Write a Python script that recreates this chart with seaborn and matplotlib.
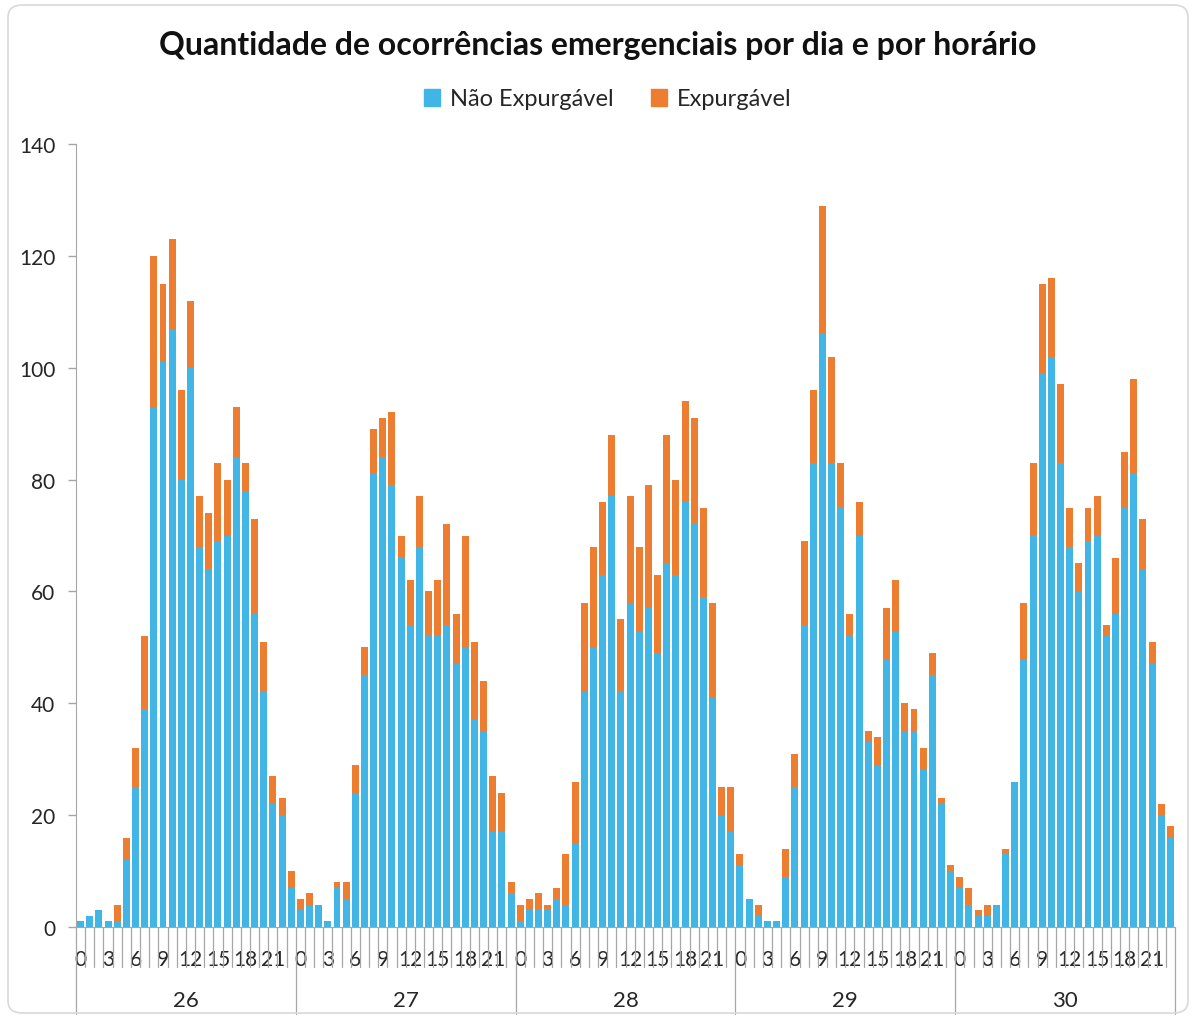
import numpy as np
import pandas as pd
import matplotlib
matplotlib.use('Agg')
import matplotlib.pyplot as plt
import matplotlib.transforms as mtransforms
from matplotlib.patches import FancyBboxPatch, Patch
import seaborn as sns

# dias e horas
dias = ['26', '27', '28', '29', '30']
horas = list(range(24))

# ocorrencias "Não Expurgável" por hora, cada dia
nao_exp_26 = [1, 2, 3, 1, 1, 12, 25, 39, 93, 101, 107, 80, 100, 68, 64, 69, 70, 84, 78, 56, 42, 22, 20, 7]
nao_exp_27 = [3, 4, 4, 1, 7, 5, 24, 45, 81, 84, 79, 66, 54, 68, 52, 52, 54, 47, 50, 37, 35, 17, 17, 6]
nao_exp_28 = [1, 3, 3, 3, 5, 4, 15, 42, 50, 63, 77, 42, 58, 53, 57, 49, 65, 63, 76, 72, 59, 41, 20, 17]
nao_exp_29 = [11, 5, 2, 1, 1, 9, 25, 54, 83, 106, 83, 75, 52, 70, 33, 29, 48, 53, 35, 35, 28, 45, 22, 10]
nao_exp_30 = [7, 4, 2, 2, 4, 13, 26, 48, 70, 99, 102, 83, 68, 60, 69, 70, 52, 56, 75, 81, 64, 47, 20, 16]

# ocorrencias "Expurgável" por hora, cada dia
exp_26 = [0, 0, 0, 0, 3, 4, 7, 13, 27, 14, 16, 16, 12, 9, 10, 14, 10, 9, 5, 17, 9, 5, 3, 3]
exp_27 = [2, 2, 0, 0, 1, 3, 5, 5, 8, 7, 13, 4, 8, 9, 8, 10, 18, 9, 20, 14, 9, 10, 7, 2]
exp_28 = [3, 2, 3, 1, 2, 9, 11, 16, 18, 13, 11, 13, 19, 15, 22, 14, 23, 17, 18, 19, 16, 17, 5, 8]
exp_29 = [2, 0, 2, 0, 0, 5, 6, 15, 13, 23, 19, 8, 4, 6, 2, 5, 9, 9, 5, 4, 4, 4, 1, 1]
exp_30 = [2, 3, 1, 2, 0, 1, 0, 10, 13, 16, 14, 14, 7, 5, 6, 7, 2, 10, 10, 17, 9, 4, 2, 2]

nao_exp = nao_exp_26 + nao_exp_27 + nao_exp_28 + nao_exp_29 + nao_exp_30
exp = exp_26 + exp_27 + exp_28 + exp_29 + exp_30

df = pd.DataFrame({
    'pos': np.arange(len(nao_exp)),
    'nao': nao_exp,
    'exp': exp,
})
df['total'] = df['nao'] + df['exp']

AZUL = '#41B6E6'
LARANJA = '#ED7D31'
CINZA = '#A6A6A6'
TEXTO = '#262626'

sns.set_style('white')
plt.rcParams['font.family'] = ['Lato', 'DejaVu Sans']

fig = plt.figure(figsize=(11.96, 10.20), dpi=100)
ax = fig.add_axes([76 / 1196, 1 - 928 / 1020, 1099 / 1196, 783 / 1020])

# barras empilhadas: total em laranja, parte azul por cima
sns.barplot(data=df, x='pos', y='total', color=LARANJA, saturation=1,
            width=0.76, ax=ax, linewidth=0)
sns.barplot(data=df, x='pos', y='nao', color=AZUL, saturation=1,
            width=0.76, ax=ax, linewidth=0)

ax.set_xlim(-0.5, len(nao_exp) - 0.5)
ax.set_ylim(0, 140)
ax.set_yticks(range(0, 141, 20))
ax.tick_params(axis='y', labelsize=15, length=5.8, color=CINZA, width=1,
               left=True, pad=9, labelcolor=TEXTO)
ax.set_xlabel('')
ax.set_ylabel('')

# eixo x em dois niveis (hora / dia)
ticks = [d * 24 + h for d in range(len(dias)) for h in horas if h % 3 == 0]
ax.set_xticks(ticks)
ax.set_xticklabels([str(t % 24) for t in ticks])
ax.tick_params(axis='x', labelsize=15, length=0, pad=16, labelcolor=TEXTO)

sns.despine(ax=ax, top=True, right=True)
ax.spines['left'].set_color(CINZA)
ax.spines['bottom'].set_color(CINZA)

trans = mtransforms.blended_transform_factory(ax.transData, ax.transAxes)
for i in range(len(nao_exp) + 1):
    x = i - 0.5
    comp = 0.111 if i % 24 == 0 else 0.051
    ax.plot([x, x], [0, -comp], transform=trans, clip_on=False,
            color=CINZA, lw=0.9)
for d, dia in enumerate(dias):
    ax.text(d * 24 + 11.5, -0.093, dia, transform=trans, ha='center',
            va='center', fontsize=16, color=TEXTO)

# titulo e legenda
fig.text(0.5, 1 - 45 / 1020, 'Quantidade de ocorrências emergenciais por dia e por horário',
         ha='center', va='center', fontsize=23, fontweight='bold', color='#111111')
handles = [Patch(color=AZUL, label='Não Expurgável'),
           Patch(color=LARANJA, label='Expurgável')]
fig.legend(handles=handles, loc='center', bbox_to_anchor=(0.508, 1 - 100 / 1020),
           ncol=2, frameon=False, fontsize=17, handlelength=0.7, handleheight=0.7,
           handletextpad=0.4, columnspacing=1.6, labelcolor=TEXTO)

# moldura arredondada
fig.patches.append(FancyBboxPatch((8 / 1196, 6 / 1020), 1180 / 1196, 1008 / 1020,
                                  boxstyle='round,pad=0,rounding_size=0.012',
                                  transform=fig.transFigure, fill=False,
                                  edgecolor='#D9D9D9', lw=1.2))

fig.savefig('out.png', dpi=100)
